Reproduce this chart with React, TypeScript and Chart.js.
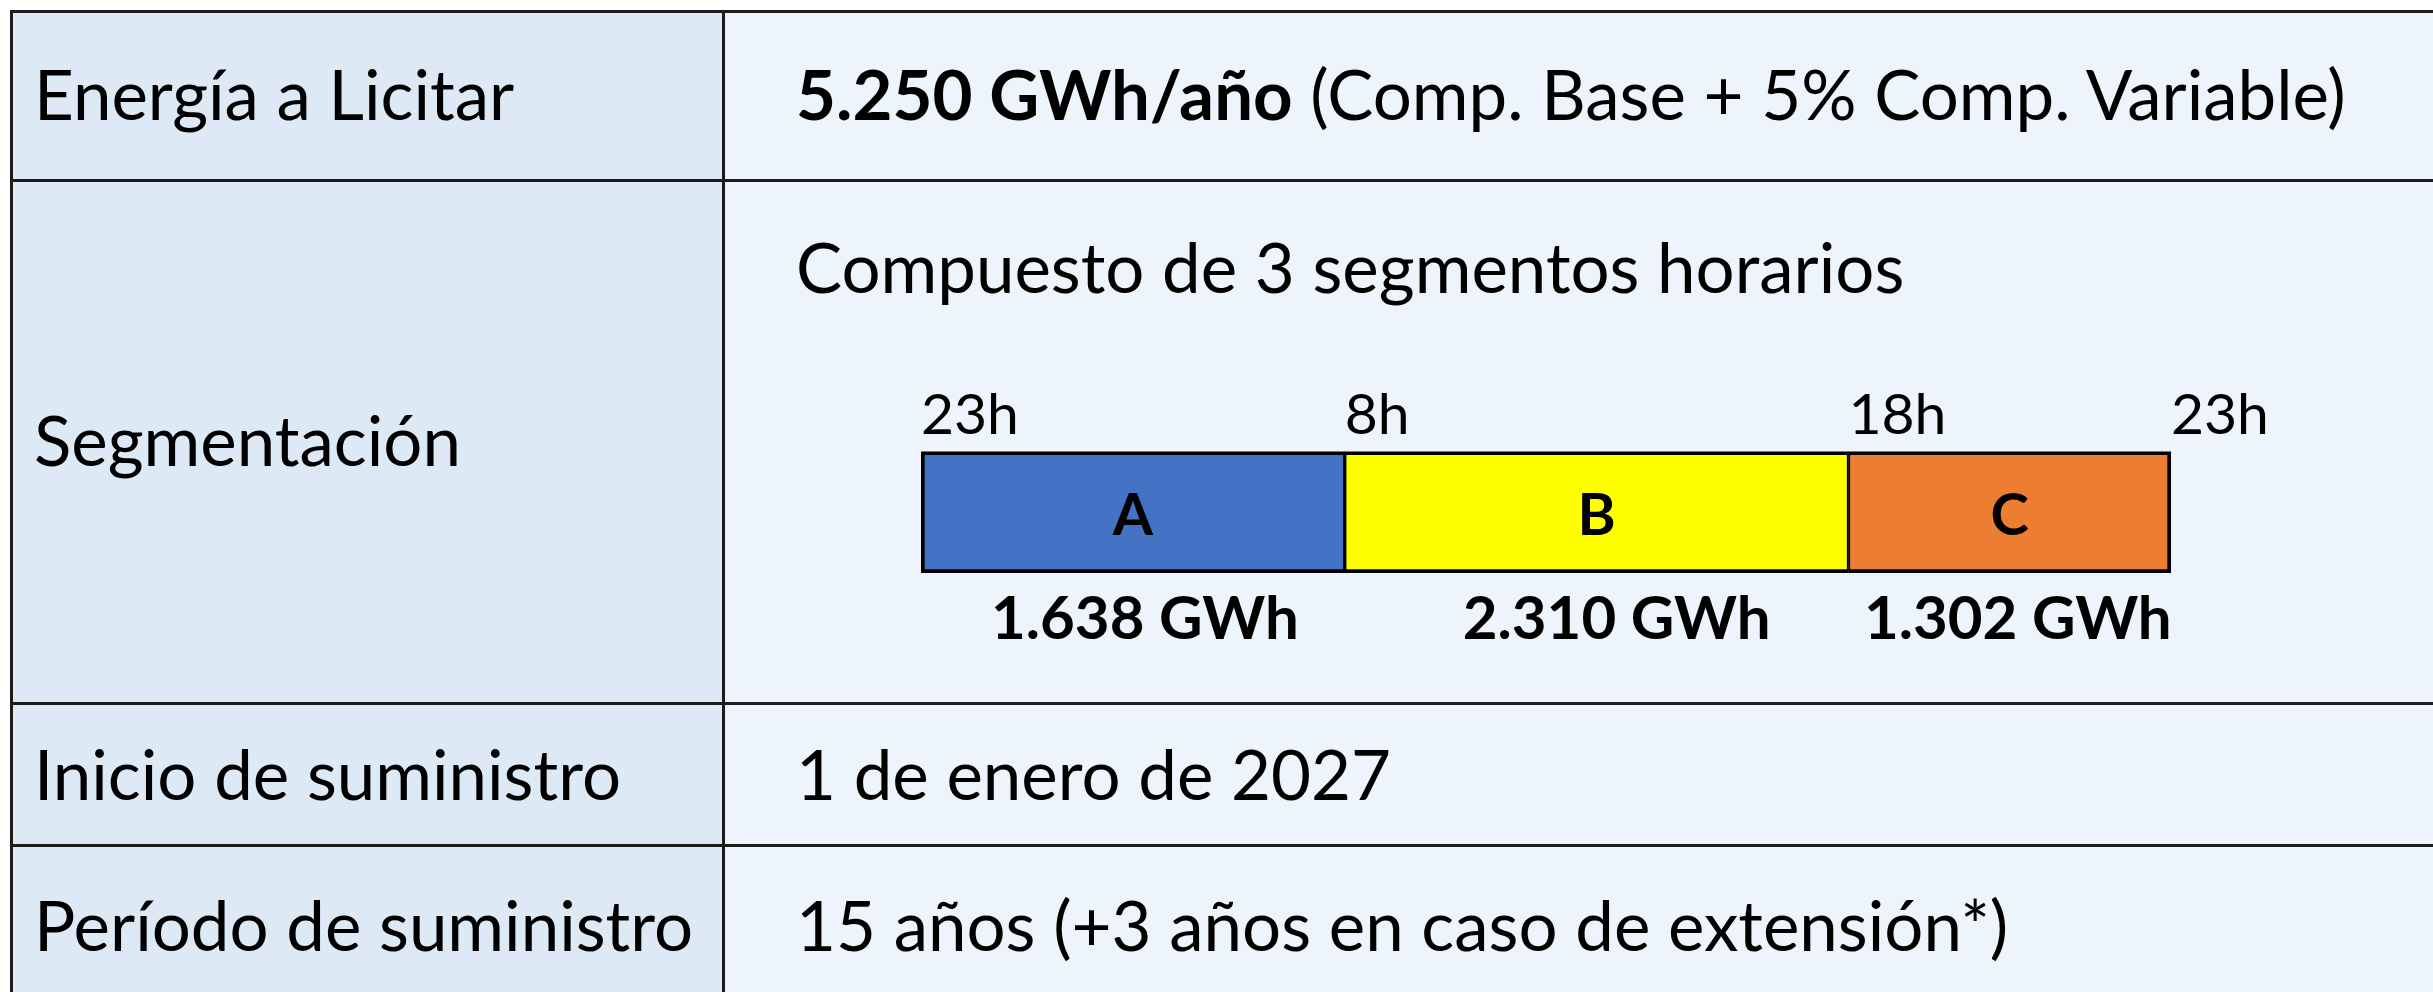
import React, { useEffect, useRef } from 'react';
import { Chart, registerables } from 'chart.js';

Chart.register(...registerables);

// ---- content / data ----
const rowLabels = ['Energía a Licitar', 'Segmentación', 'Inicio de suministro', 'Período de suministro'];
const totalEnergyText = '5.250 GWh/año';
const totalEnergyNote = ' (Comp. Base + 5% Comp. Variable)';
const segmentationTitle = 'Compuesto de 3 segmentos horarios';
const supplyStart = '1 de enero de 2027';
const supplyPeriod = '15 años (+3 años en caso de extensión*)';

const segmentNames = ['A', 'B', 'C'];
const segmentShare = [33.9, 40.3, 25.8]; // relative length of each segment in the bar
const segmentEnergyGWh = [1638, 2310, 1302];
const boundaryLabels = ['23h', '8h', '18h', '23h'];
const segmentColors = ['#4472C4', '#FFFF00', '#ED7D31'];

const FONT = 'Lato, "Open Sans", sans-serif';

function fmtGWh(n: number): string {
  return String(n).replace(/\B(?=(\d{3})+(?!\d))/g, '.') + ' GWh';
}

const labelShift = [12, 20, 8];

const SegmentBar: React.FC = () => {
  const ref = useRef<HTMLCanvasElement | null>(null);
  useEffect(() => {
    if (!ref.current) return;
    const cum: number[] = [0];
    segmentShare.forEach((v) => cum.push(cum[cum.length - 1] + v));
    const total = cum[cum.length - 1];

    const labelPlugin = {
      id: 'segLabels',
      afterDatasetsDraw(chart: any) {
        const ctx = chart.ctx;
        ctx.save();
        ctx.fillStyle = '#000';
        ctx.textAlign = 'center';
        ctx.textBaseline = 'middle';
        chart.data.datasets.forEach((ds: any, i: number) => {
          const bar = chart.getDatasetMeta(i).data[0] as any;
          const cx = (bar.x + bar.base) / 2;
          ctx.font = `bold 58px ${FONT}`;
          ctx.fillText(segmentNames[i], cx, bar.y + 4);
          ctx.font = `bold 60px ${FONT}`;
          ctx.fillText(fmtGWh(segmentEnergyGWh[i]), cx + labelShift[i], chart.chartArea.bottom + 47);
        });
        ctx.restore();
      },
    };

    const chart = new Chart(ref.current, {
      type: 'bar',
      data: {
        labels: ['Segmentos'],
        datasets: segmentNames.map((name, i) => ({
          label: name,
          data: [segmentShare[i]],
          backgroundColor: segmentColors[i],
          borderColor: '#000',
          borderWidth: {
            top: 4,
            bottom: 4,
            left: i === 0 ? 4 : 2,
            right: i === segmentNames.length - 1 ? 4 : 2,
          },
          borderSkipped: false,
          categoryPercentage: 1,
          barPercentage: 1,
        })),
      },
      options: {
        indexAxis: 'y',
        animation: false,
        responsive: false,
        maintainAspectRatio: false,
        layout: { padding: { left: 41, right: 159, top: 9, bottom: 97 } },
        plugins: { legend: { display: false }, tooltip: { enabled: false } },
        scales: {
          x: {
            type: 'linear',
            stacked: true,
            position: 'top',
            min: 0,
            max: total,
            grid: { display: false, drawTicks: false },
            border: { display: false },
            afterBuildTicks: (axis: any) => {
              axis.ticks = cum.map((v) => ({ value: v }));
            },
            ticks: {
              autoSkip: false,
              maxRotation: 0,
              minRotation: 0,
              align: 'start',
              padding: 2,
              color: '#000',
              font: { family: FONT, size: 57 },
              callback: (_v: any, idx: number) => boundaryLabels[idx],
            },
          },
          y: { stacked: true, display: false },
        },
      },
      plugins: [labelPlugin],
    } as any);
    return () => chart.destroy();
  }, []);
  return <canvas ref={ref} width={1450} height={300} style={{ width: 1450, height: 300, display: 'block' }} />;
};

const LEFT_BG = '#DDE9F5';
const RIGHT_BG = '#EDF4FB';
const LINE = '#1c1c1c';

const hLines = [11.5, 180, 703, 845];
const vLines = [11.5, 723];

const Text: React.FC<{ x: number; cy: number; size?: number; children: React.ReactNode }> = ({ x, cy, size = 69, children }) => (
  <div
    style={{
      position: 'absolute',
      left: x,
      top: cy - 45,
      height: 90,
      lineHeight: '90px',
      fontSize: size,
      fontFamily: FONT,
      color: '#000',
      whiteSpace: 'nowrap',
    }}
  >
    {children}
  </div>
);

export default function App() {
  useEffect(() => {
    document.body.style.margin = '0';
  }, []);
  return (
    <div style={{ position: 'fixed', left: 0, top: 0, width: 2433, height: 992, overflow: 'hidden', background: '#fff' }}>
      {/* backgrounds */}
      <div style={{ position: 'absolute', left: 11, top: 11, width: 712, height: 1100, background: LEFT_BG }} />
      <div style={{ position: 'absolute', left: 723, top: 11, width: 1800, height: 1100, background: RIGHT_BG }} />
      {/* lines */}
      {hLines.map((y, i) => (
        <div key={'h' + i} style={{ position: 'absolute', left: 10, top: y - 1.5, width: 2500, height: 3, background: LINE }} />
      ))}
      {vLines.map((x, i) => (
        <div key={'v' + i} style={{ position: 'absolute', left: x - 1.5, top: 10, width: 3, height: 1100, background: LINE }} />
      ))}
      {/* left column */}
      <Text x={34} cy={94}>{rowLabels[0]}</Text>
      <Text x={34} cy={440}>{rowLabels[1]}</Text>
      <Text x={34} cy={774}>{rowLabels[2]}</Text>
      <Text x={34} cy={925}>{rowLabels[3]}</Text>
      {/* right column */}
      <Text x={796} cy={94}>
        <b>{totalEnergyText}</b>
        {totalEnergyNote}
      </Text>
      <Text x={796} cy={267}>{segmentationTitle}</Text>
      <div style={{ position: 'absolute', left: 880, top: 370 }}>
        <SegmentBar />
      </div>
      <Text x={796} cy={774}>{supplyStart}</Text>
      <Text x={796} cy={925}>{supplyPeriod}</Text>
    </div>
  );
}
